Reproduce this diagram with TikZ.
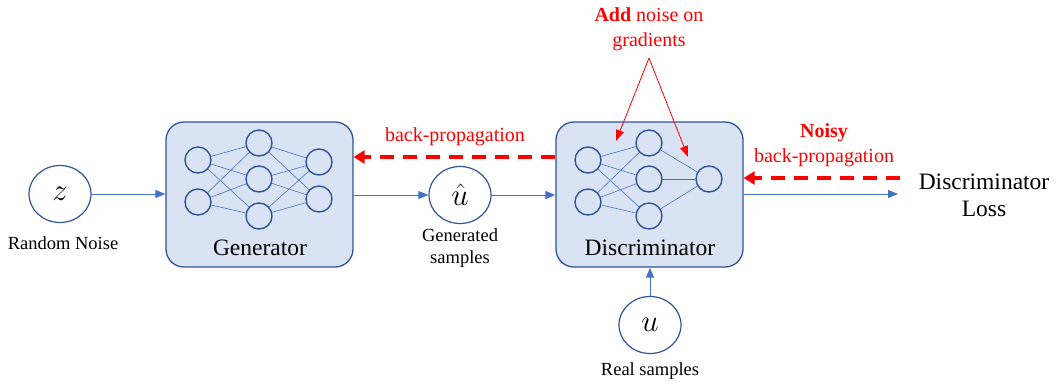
\RequirePackage{fix-cm}
\documentclass[tikz,border=0pt]{standalone}
\usepackage{fontspec}
\setmainfont{Liberation Serif}
\usetikzlibrary{positioning,arrows.meta,shapes.geometric}

\definecolor{boxfill}{HTML}{DAE3F3}
\definecolor{boxline}{HTML}{2F5597}
\definecolor{linkblue}{HTML}{4472C4}

\tikzset{
	netbox/.style={draw=boxline, fill=boxfill, line width=1.3pt, rounded corners=18pt,
		minimum width=187pt, minimum height=145pt},
	neuron/.style={circle, draw=boxline, fill=boxfill, line width=1.4pt,
		minimum size=26pt, inner sep=0pt},
	varnode/.style={ellipse, draw=boxline, fill=white, line width=1.2pt,
		minimum width=62pt, minimum height=57pt, inner sep=0pt, font=\fontsize{31}{33}\selectfont},
	wire/.style={draw=linkblue, line width=0.6pt},
	flow/.style={draw=linkblue, line width=0.9pt, -{Triangle[length=10pt,width=8pt]}},
	backprop/.style={draw=red, line width=3.2pt, dash pattern=on 14pt off 9pt,
		-{Triangle[length=11pt,width=13pt]}},
	hint/.style={draw=red, line width=0.8pt, -{Triangle[length=11pt,width=8pt]}},
	boxtext/.style={font=\fontsize{23.5}{27}\selectfont},
	smalltext/.style={font=\fontsize{18.5}{22}\selectfont, align=center},
	redtext/.style={text=red, font=\fontsize{20}{25}\selectfont, align=center}
}

\begin{document}
\begin{tikzpicture}[x=1pt,y=-1pt]
	\useasboundingbox (0,0) rectangle (1056,384);

	% generator
	\node[netbox] (gen) at (259.5,194.5) {};
	\node[boxtext] (gentext) at (260,248) {Generator};
	\foreach \y [count=\i] in {160,202}
		\node[neuron] (gi\i) at (198,\y) {};
	\foreach \y [count=\i] in {143,179,216}
		\node[neuron] (gh\i) at (259,\y) {};
	\foreach \y [count=\i] in {162,199}
		\node[neuron] (go\i) at (319,\y) {};
	\foreach \a in {1,2}
		\foreach \b in {1,2,3}
			\draw[wire] (gi\a) -- (gh\b);
	\foreach \a in {1,2,3}
		\foreach \b in {1,2}
			\draw[wire] (gh\a) -- (go\b);

	% discriminator
	\node[netbox] (disc) at (649.5,194.5) {};
	\node[boxtext] (disctext) at (650,248) {Discriminator};
	\foreach \y [count=\i] in {160,202}
		\node[neuron] (di\i) at (588,\y) {};
	\foreach \y [count=\i] in {143,179,216}
		\node[neuron] (dh\i) at (649,\y) {};
	\node[neuron] (do1) at (709,179) {};
	\foreach \a in {1,2}
		\foreach \b in {1,2,3}
			\draw[wire] (di\a) -- (dh\b);
	\foreach \a in {1,2,3}
		\draw[wire] (dh\a) -- (do1);

	% inputs and outputs
	\node[varnode] (z) at (60,194) {$z$};
	\node[smalltext] (zlabel) at (63,243) {Random Noise};
	\node[varnode] (uhat) at (460,195) {$\hat{u}$};
	\node[smalltext] (uhatlabel) at (460,248) {Generated\\samples};
	\node[varnode] (u) at (650,325) {$u$};
	\node[smalltext] (ulabel) at (650,371) {Real samples};
	\node[boxtext, align=center] (loss) at (984,195) {Discriminator\\Loss};
	\coordinate (lossin) at (898,194);

	\draw[flow] (z.east) -- (gen.west |- z.east);
	\draw[flow] (gen.east |- uhat.west) -- (uhat.west);
	\draw[flow] (uhat.east) -- (disc.west |- uhat.east);
	\draw[flow] (disc.east |- lossin) -- (lossin);
	\draw[flow] (u.north) -- (u.north |- disc.south);

	% back-propagation
	\draw[backprop] ([yshift=37.5pt]disc.west) -- ([yshift=37.5pt]gen.east);
	\node[redtext] (bplabel) at (455,137) {back-propagation};
	\coordinate (noisyin) at (900,178);
	\draw[backprop] (noisyin) -- (disc.east |- noisyin);
	\node[redtext] (noisylabel) at (824,145) {\textbf{Noisy}\\back-propagation};

	% noise on gradients
	\node[redtext] (addlabel) at (649,29.5) {\textbf{Add} noise on\\gradients};
	\coordinate (apex) at (649,58);
	\coordinate (tipl) at (616,141);
	\coordinate (tipr) at (688,157);
	\draw[hint] (apex) -- (tipl);
	\draw[hint] (apex) -- (tipr);
\end{tikzpicture}
\end{document}
